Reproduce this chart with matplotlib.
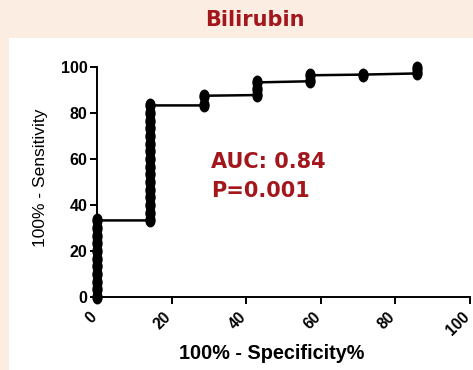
import matplotlib
matplotlib.use("Agg")
import matplotlib.pyplot as plt
from matplotlib.path import Path
from matplotlib.transforms import Affine2D, ScaledTranslation

# ROC points for bilirubin (100% - specificity, sensitivity)
spec_x = [0, 0, 0, 0, 0, 0, 0, 0, 0, 0, 0,
          14.29, 14.29, 14.29, 14.29, 14.29, 14.29, 14.29, 14.29,
          14.29, 14.29, 14.29, 14.29, 14.29, 14.29, 14.29, 14.29,
          28.57, 28.57,
          42.86, 42.86, 42.86,
          57.14, 57.14,
          71.43,
          85.71, 85.71]
sens_y = [0, 3.3, 6.7, 10, 13.3, 16.7, 20, 23.3, 26.7, 30, 33.3,
          33.3, 36.7, 40, 43.3, 46.7, 50, 53.3, 56.7,
          60, 63.3, 66.7, 70, 73.3, 76.7, 80, 83.3,
          83.3, 87.5,
          87.8, 90.5, 93.3,
          93.8, 96.4,
          96.7,
          97.2, 99.5]
ticks = [0, 20, 40, 60, 80, 100]

red = "#a3161b"
fig = plt.figure(figsize=(4.73, 3.70), dpi=100)
fig.patch.set_facecolor("#fcede2")

# white panel behind the plot
panel = fig.add_axes([9/473, 0, 464/473, 332/370], zorder=0)
panel.axis("off")
panel.add_patch(plt.Rectangle((0, 0), 1, 1, transform=panel.transAxes,
                              facecolor="white", edgecolor="none"))

fig.text(255/473, 1 - 20/370, "Bilirubin", color=red, fontsize=15,
         fontweight="bold", ha="center", va="center", family="DejaVu Sans")

# tall oval marker like the original
oval = Path.unit_circle().transformed(Affine2D().scale(0.72, 1.0))

ax = fig.add_axes([97/473, 73/370, 373/473, 230/370], zorder=1)
ax.set_facecolor("none")
ax.plot(spec_x, sens_y, color="black", lw=1.8, marker=oval, markersize=9,
        clip_on=False, zorder=3)
ax.set_xlim(0, 100)
ax.set_ylim(0, 100)
ax.set_xticks(ticks)
ax.set_yticks(ticks)
for s in ["top", "right"]:
    ax.spines[s].set_visible(False)
for s in ["left", "bottom"]:
    ax.spines[s].set_linewidth(1.4)
ax.tick_params(direction="out", length=5, width=1.4, pad=2)
ax.tick_params(axis="x", pad=4)
ax.set_yticklabels([str(t) for t in ticks], fontsize=11.5, fontweight="bold",
                   family="Liberation Sans")
ax.set_xticklabels([str(t) for t in ticks], fontsize=11.2, fontweight="bold",
                   family="Liberation Sans", rotation=45, ha="right",
                   rotation_mode="anchor")
# nudge the slanted labels left so they sit under the ticks
shift = ScaledTranslation(-8/100, 0, fig.dpi_scale_trans)
for lab in ax.get_xticklabels():
    lab.set_transform(lab.get_transform() + shift)

ax.set_xlabel("100% - Specificity%", fontsize=14.3, fontweight="bold",
              family="Liberation Sans")
ax.xaxis.set_label_coords((272 - 97) / 373, -0.205)
ax.set_ylabel("100% - Sensitivity", fontsize=12.5, family="Liberation Sans")
ax.yaxis.set_label_coords((48 - 97) / 373, 0.52)

ax.text(30.5, 56, "AUC: 0.84", color=red, fontsize=15, fontweight="bold",
        va="baseline", family="DejaVu Sans")
ax.text(30.5, 43.5, "P=0.001", color=red, fontsize=15, fontweight="bold",
        va="baseline", family="DejaVu Sans")

fig.savefig("out.png", dpi=100, facecolor=fig.get_facecolor())
